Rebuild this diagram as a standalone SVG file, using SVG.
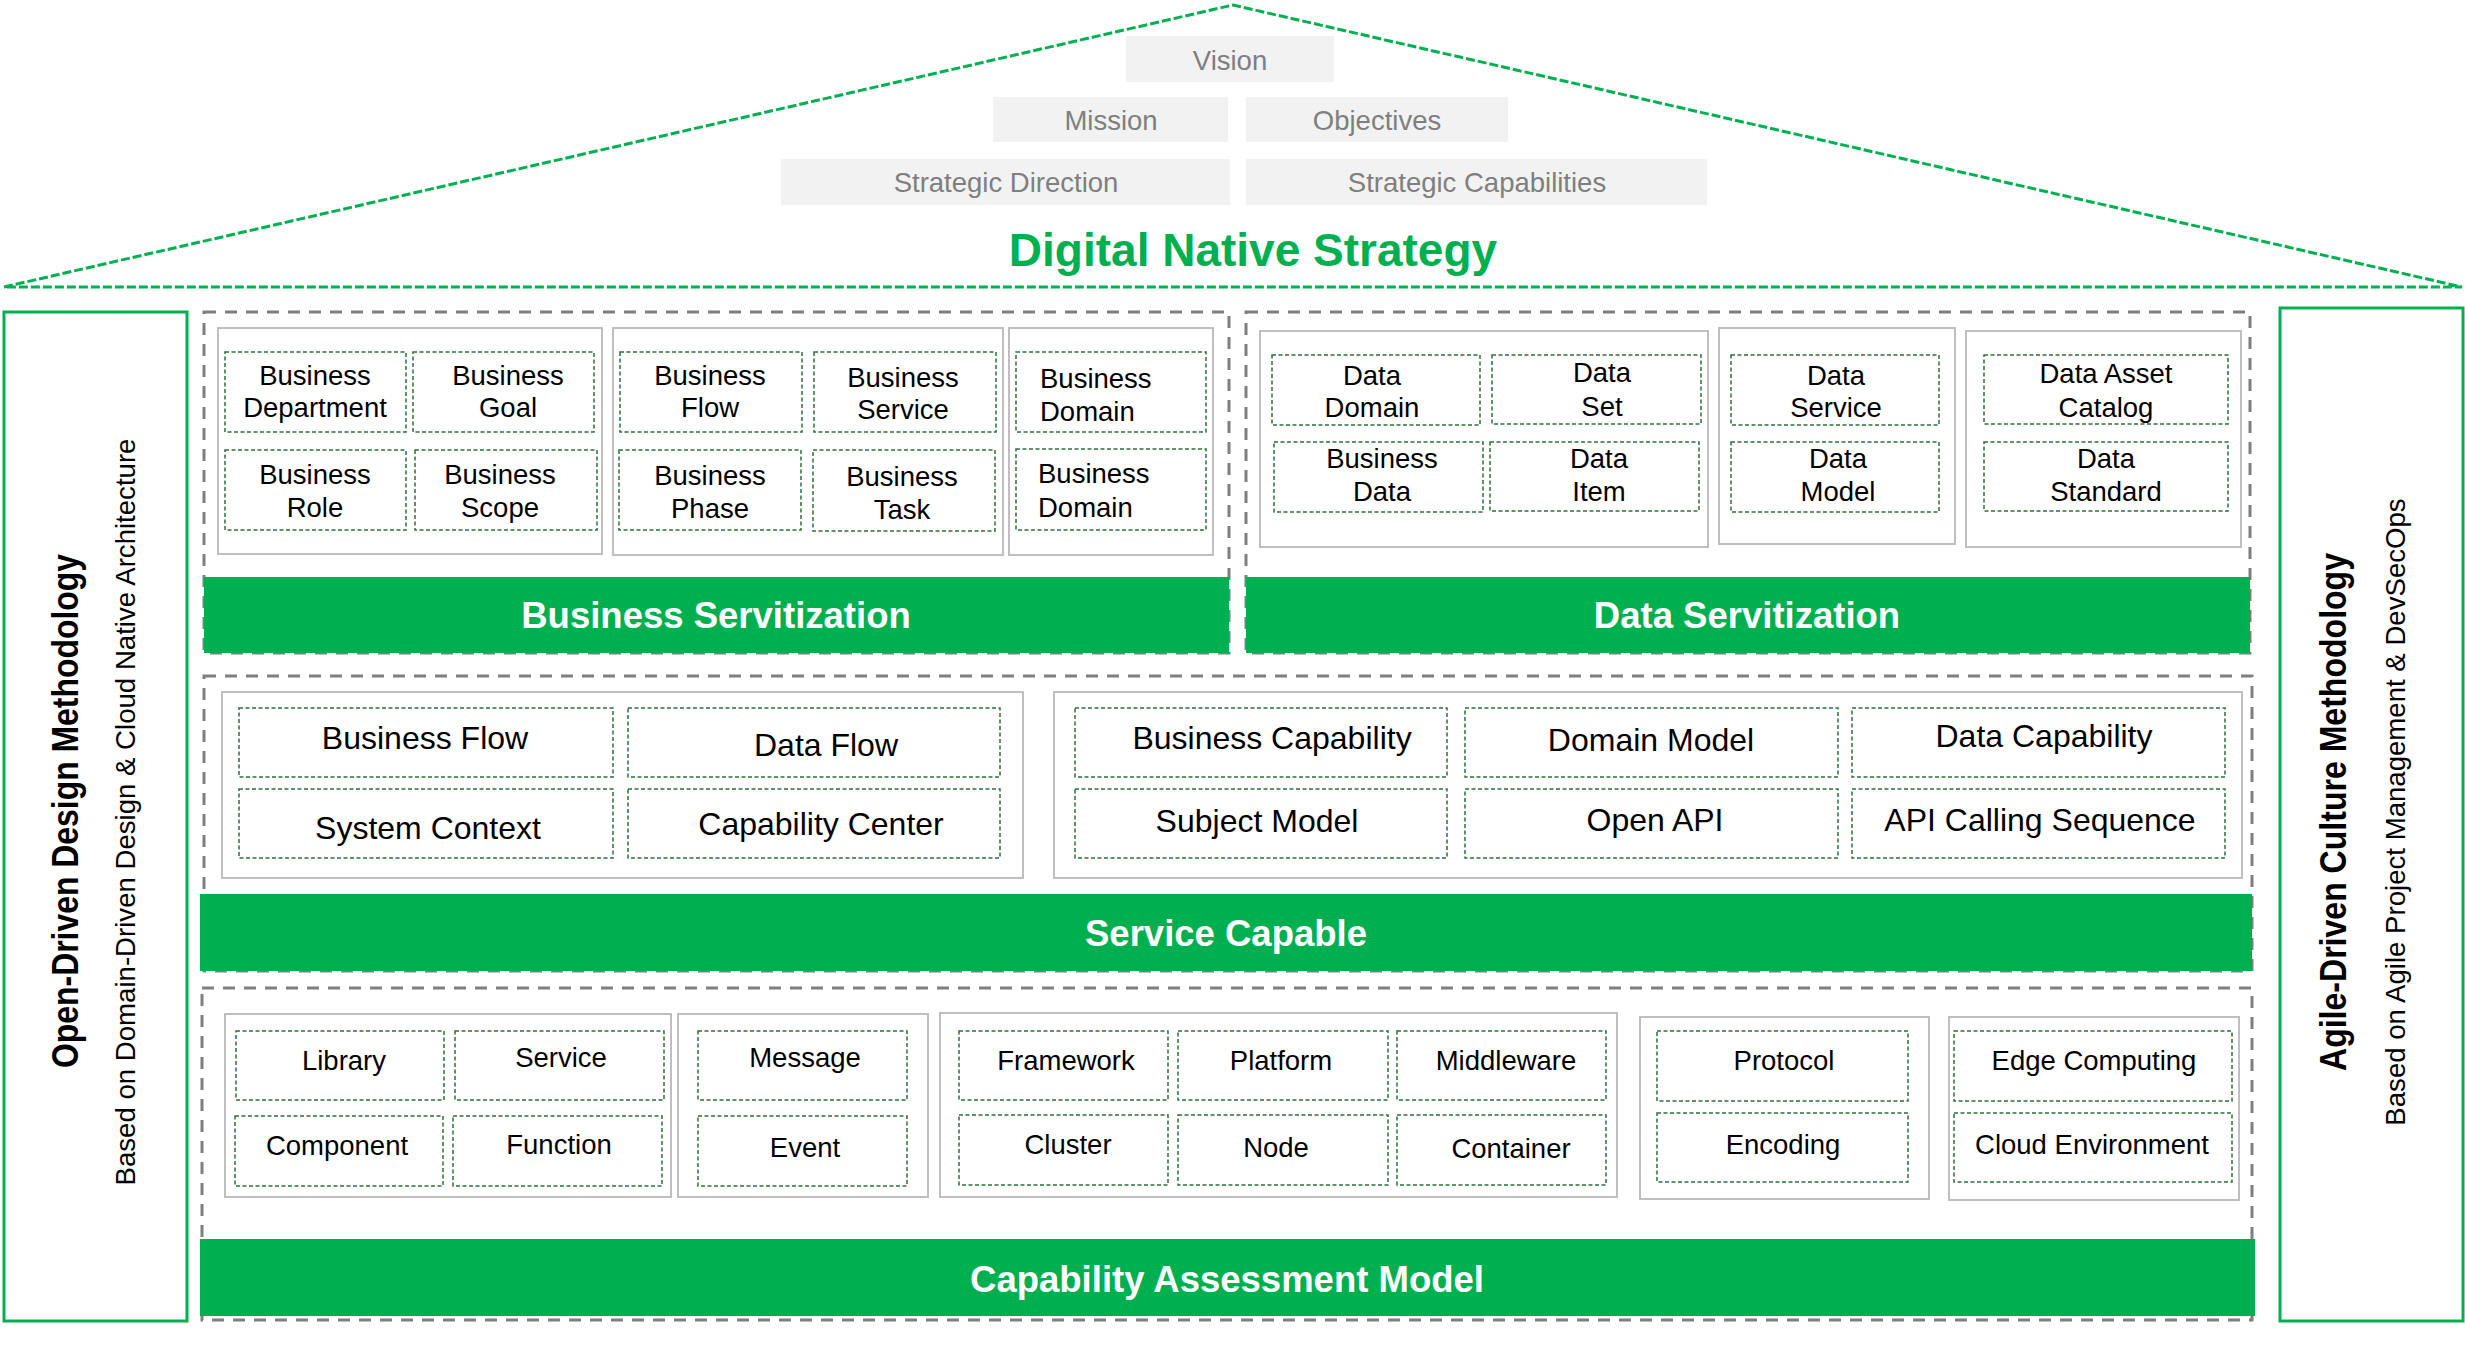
<svg xmlns="http://www.w3.org/2000/svg" width="2465" height="1362" viewBox="0 0 2465 1362">
<style>
text{font-family:"Liberation Sans",Arial,sans-serif}
.t{font-size:27.5px;fill:#000;text-anchor:middle}
.ts{font-size:27.5px;fill:#000;text-anchor:start}
.m{font-size:32px;fill:#000;text-anchor:middle}
.db{fill:#fff;stroke:#2f6e3e;stroke-width:1.5;stroke-dasharray:4 2.5}
.sb{fill:#fff;stroke:#bfbfbf;stroke-width:2}
.gc{fill:none;stroke:#7f7f7f;stroke-width:3;stroke-dasharray:12 9}
.band{fill:#00b050}
.bt{fill:#fff;font-weight:bold;font-size:36.5px;text-anchor:middle}
.gb{fill:#f2f2f2}
.gt{fill:#7f7f7f;font-size:27.5px;text-anchor:middle}
.side{fill:#fff;stroke:#00b050;stroke-width:3}
.sbold{font-weight:bold;font-size:37px;fill:#000;text-anchor:middle}
.sreg{font-size:27.6px;fill:#000;text-anchor:middle}
</style>
<rect width="2465" height="1362" fill="#fff"/>

<g id="roof">
<polygon points="4,287 1233,5 2462,287" fill="none" stroke="#00b050" stroke-width="3" stroke-dasharray="9 3"/>
</g>
<g id="vision"><rect class="gb" x="1126" y="36" width="208" height="46"/><text class="gt" x="1230" y="70">Vision</text></g>
<g id="mission"><rect class="gb" x="993" y="97" width="235" height="45"/><text class="gt" x="1111" y="130">Mission</text></g>
<g id="objectives"><rect class="gb" x="1246" y="97" width="262" height="45"/><text class="gt" x="1377" y="130">Objectives</text></g>
<g id="strategic-direction"><rect class="gb" x="781" y="159" width="449" height="46"/><text class="gt" x="1006" y="192">Strategic Direction</text></g>
<g id="strategic-capabilities"><rect class="gb" x="1246" y="159" width="461" height="46"/><text class="gt" x="1477" y="192">Strategic Capabilities</text></g>
<g id="title"><text x="1253" y="266" font-size="46" font-weight="bold" fill="#00b050" text-anchor="middle">Digital Native Strategy</text></g>

<g id="left-pillar">
<rect class="side" x="4" y="312" width="183" height="1009"/>
<text class="sbold" transform="translate(78,811) rotate(-90)" textLength="514" lengthAdjust="spacingAndGlyphs">Open-Driven Design Methodology</text>
<text class="sreg" transform="translate(135,812) rotate(-90)">Based on Domain-Driven Design &amp; Cloud Native Architecture</text>
</g>
<g id="right-pillar">
<rect class="side" x="2280" y="308" width="183" height="1013"/>
<text class="sbold" transform="translate(2346,812) rotate(-90)" textLength="518" lengthAdjust="spacingAndGlyphs">Agile-Driven Culture Methodology</text>
<text class="sreg" transform="translate(2405,812) rotate(-90)">Based on Agile Project Management &amp; DevSecOps</text>
</g>

<!-- Business Servitization -->
<g id="business-servitization">
<rect class="gc" x="204" y="312" width="1025" height="341"/>
<rect class="sb" x="218" y="328" width="384" height="226"/>
<rect class="sb" x="613" y="328" width="390" height="227"/>
<rect class="sb" x="1009" y="328" width="204" height="227"/>
<rect class="band" x="204" y="577" width="1025" height="76"/>
<text class="bt" x="716" y="628">Business Servitization</text>
</g>
<g id="business-department"><rect class="db" x="225" y="352" width="181" height="80"/><text class="t" x="315" y="385">Business</text><text class="t" x="315" y="417">Department</text></g>
<g id="business-goal"><rect class="db" x="413" y="352" width="181" height="80"/><text class="t" x="508" y="385">Business</text><text class="t" x="508" y="417">Goal</text></g>
<g id="business-role"><rect class="db" x="225" y="450" width="181" height="80"/><text class="t" x="315" y="484">Business</text><text class="t" x="315" y="517">Role</text></g>
<g id="business-scope"><rect class="db" x="415" y="450" width="182" height="80"/><text class="t" x="500" y="484">Business</text><text class="t" x="500" y="517">Scope</text></g>
<g id="business-flow"><rect class="db" x="620" y="352" width="182" height="80"/><text class="t" x="710" y="385">Business</text><text class="t" x="710" y="417">Flow</text></g>
<g id="business-service"><rect class="db" x="814" y="352" width="182" height="80"/><text class="t" x="903" y="387">Business</text><text class="t" x="903" y="419">Service</text></g>
<g id="business-phase"><rect class="db" x="619" y="450" width="182" height="80"/><text class="t" x="710" y="485">Business</text><text class="t" x="710" y="518">Phase</text></g>
<g id="business-task"><rect class="db" x="813" y="450" width="182" height="81"/><text class="t" x="902" y="486">Business</text><text class="t" x="902" y="519">Task</text></g>
<g id="business-domain-1"><rect class="db" x="1016" y="352" width="190" height="80"/><text class="ts" x="1040" y="388">Business</text><text class="ts" x="1040" y="421">Domain</text></g>
<g id="business-domain-2"><rect class="db" x="1016" y="449" width="190" height="81"/><text class="ts" x="1038" y="483">Business</text><text class="ts" x="1038" y="517">Domain</text></g>

<!-- Data Servitization -->
<g id="data-servitization">
<rect class="gc" x="1246" y="312" width="1004" height="341"/>
<rect class="sb" x="1260" y="331" width="448" height="216"/>
<rect class="sb" x="1719" y="328" width="236" height="216"/>
<rect class="sb" x="1966" y="331" width="275" height="216"/>
<rect class="band" x="1246" y="577" width="1004" height="76"/>
<text class="bt" x="1747" y="628">Data Servitization</text>
</g>
<g id="data-domain"><rect class="db" x="1272" y="355" width="208" height="70"/><text class="t" x="1372" y="385">Data</text><text class="t" x="1372" y="417">Domain</text></g>
<g id="data-set"><rect class="db" x="1492" y="355" width="209" height="69"/><text class="t" x="1602" y="382">Data</text><text class="t" x="1602" y="416">Set</text></g>
<g id="business-data"><rect class="db" x="1274" y="442" width="209" height="70"/><text class="t" x="1382" y="468">Business</text><text class="t" x="1382" y="501">Data</text></g>
<g id="data-item"><rect class="db" x="1490" y="442" width="209" height="69"/><text class="t" x="1599" y="468">Data</text><text class="t" x="1599" y="501">Item</text></g>
<g id="data-service"><rect class="db" x="1731" y="355" width="208" height="70"/><text class="t" x="1836" y="385">Data</text><text class="t" x="1836" y="417">Service</text></g>
<g id="data-model"><rect class="db" x="1731" y="442" width="208" height="70"/><text class="t" x="1838" y="468">Data</text><text class="t" x="1838" y="501">Model</text></g>
<g id="data-asset-catalog"><rect class="db" x="1984" y="355" width="244" height="69"/><text class="t" x="2106" y="383">Data Asset</text><text class="t" x="2106" y="417">Catalog</text></g>
<g id="data-standard"><rect class="db" x="1984" y="442" width="244" height="69"/><text class="t" x="2106" y="468">Data</text><text class="t" x="2106" y="501">Standard</text></g>

<!-- Service Capable -->
<g id="service-capable">
<rect class="gc" x="204" y="676" width="2048" height="295"/>
<rect class="sb" x="222" y="692" width="801" height="186"/>
<rect class="sb" x="1054" y="692" width="1188" height="186"/>
<rect class="band" x="200" y="894" width="2052" height="77"/>
<text class="bt" x="1226" y="946">Service Capable</text>
</g>
<g id="sc-business-flow"><rect class="db" x="239" y="708" width="374" height="69"/><text class="m" x="425" y="749">Business Flow</text></g>
<g id="sc-data-flow"><rect class="db" x="628" y="708" width="372" height="69"/><text class="m" x="826" y="756">Data Flow</text></g>
<g id="sc-system-context"><rect class="db" x="239" y="789" width="374" height="69"/><text class="m" x="428" y="839">System Context</text></g>
<g id="sc-capability-center"><rect class="db" x="628" y="789" width="372" height="69"/><text class="m" x="821" y="835">Capability Center</text></g>
<g id="sc-business-capability"><rect class="db" x="1075" y="708" width="372" height="69"/><text class="m" x="1272" y="749">Business Capability</text></g>
<g id="sc-domain-model"><rect class="db" x="1465" y="708" width="373" height="69"/><text class="m" x="1651" y="751">Domain Model</text></g>
<g id="sc-data-capability"><rect class="db" x="1852" y="708" width="373" height="69"/><text class="m" x="2044" y="747">Data Capability</text></g>
<g id="sc-subject-model"><rect class="db" x="1075" y="789" width="372" height="69"/><text class="m" x="1257" y="832">Subject Model</text></g>
<g id="sc-open-api"><rect class="db" x="1465" y="789" width="373" height="69"/><text class="m" x="1655" y="831">Open API</text></g>
<g id="sc-api-calling-sequence"><rect class="db" x="1852" y="789" width="373" height="69"/><text class="m" x="2040" y="831">API Calling Sequence</text></g>

<!-- Capability Assessment Model -->
<g id="capability-assessment-model">
<rect class="gc" x="202" y="988" width="2050" height="332"/>
<rect class="sb" x="225" y="1014" width="446" height="183"/>
<rect class="sb" x="678" y="1014" width="250" height="183"/>
<rect class="sb" x="940" y="1013" width="677" height="184"/>
<rect class="sb" x="1640" y="1017" width="289" height="182"/>
<rect class="sb" x="1949" y="1017" width="290" height="183"/>
<rect class="band" x="200" y="1239" width="2055" height="77"/>
<text class="bt" x="1227" y="1292">Capability Assessment Model</text>
</g>
<g id="library"><rect class="db" x="236" y="1031" width="208" height="69"/><text class="t" x="344" y="1070">Library</text></g>
<g id="service"><rect class="db" x="455" y="1031" width="209" height="69"/><text class="t" x="561" y="1067">Service</text></g>
<g id="component"><rect class="db" x="235" y="1116" width="208" height="70"/><text class="t" x="337" y="1155">Component</text></g>
<g id="function"><rect class="db" x="453" y="1116" width="209" height="70"/><text class="t" x="559" y="1154">Function</text></g>
<g id="message"><rect class="db" x="698" y="1031" width="209" height="69"/><text class="t" x="805" y="1067">Message</text></g>
<g id="event"><rect class="db" x="698" y="1116" width="209" height="70"/><text class="t" x="805" y="1157">Event</text></g>
<g id="framework"><rect class="db" x="959" y="1031" width="209" height="69"/><text class="t" x="1066" y="1070">Framework</text></g>
<g id="platform"><rect class="db" x="1178" y="1031" width="210" height="69"/><text class="t" x="1281" y="1070">Platform</text></g>
<g id="middleware"><rect class="db" x="1397" y="1031" width="209" height="69"/><text class="t" x="1506" y="1070">Middleware</text></g>
<g id="cluster"><rect class="db" x="959" y="1115" width="209" height="70"/><text class="t" x="1068" y="1154">Cluster</text></g>
<g id="node"><rect class="db" x="1178" y="1115" width="210" height="70"/><text class="t" x="1276" y="1157">Node</text></g>
<g id="container"><rect class="db" x="1397" y="1115" width="209" height="70"/><text class="t" x="1511" y="1158">Container</text></g>
<g id="protocol"><rect class="db" x="1657" y="1031" width="251" height="70"/><text class="t" x="1784" y="1070">Protocol</text></g>
<g id="encoding"><rect class="db" x="1657" y="1113" width="251" height="69"/><text class="t" x="1783" y="1154">Encoding</text></g>
<g id="edge-computing"><rect class="db" x="1954" y="1031" width="278" height="70"/><text class="t" x="2094" y="1070">Edge Computing</text></g>
<g id="cloud-environment"><rect class="db" x="1954" y="1113" width="278" height="69"/><text class="t" x="2092" y="1154">Cloud Environment</text></g>

<g id="connectors"></g>
</svg>
